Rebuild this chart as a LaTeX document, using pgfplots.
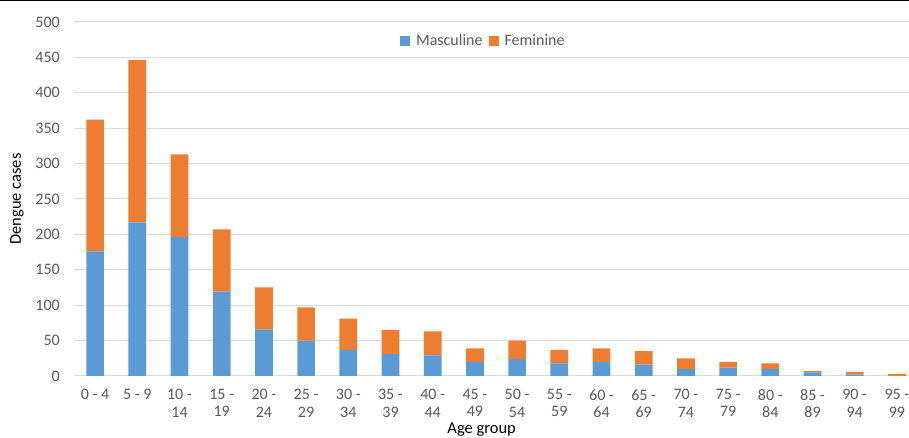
\documentclass[border=0pt]{standalone}
\usepackage{fontspec}
\setmainfont{Carlito}
\usepackage{pgfplots}
\pgfplotsset{compat=1.18}
\definecolor{mblue}{HTML}{5B9BD5}
\definecolor{forange}{HTML}{ED7D31}
\definecolor{tgray}{HTML}{595959}
\definecolor{ggray}{HTML}{D9D9D9}
\begin{document}
\begin{tikzpicture}
\useasboundingbox (0,0) rectangle (909pt,438pt);
\begin{axis}[
  at={(74pt,62pt)}, anchor=south west,
  scale only axis, width=844pt, height=354pt,
  ybar stacked, bar width=17.7pt,
  xmin=-0.5, xmax=19.5, ymin=0, ymax=500,
  enlargelimits=false,
  xtick=data,
  xticklabels={{0 - 4},{5 - 9},{10 -\\14},{15 -\\19},{20 -\\24},{25 -\\29},{30 -\\34},{35 -\\39},{40 -\\44},{45 -\\49},{50 -\\54},{55 -\\59},{60 -\\64},{65 -\\69},{70 -\\74},{75 -\\79},{80 -\\84},{85 -\\89},{90 -\\94},{95 -\\99}},
  ytick={0,50,...,500},
  /pgf/number format/assume math mode=true,
  axis line style={draw=none},
  major tick length=0pt,
  ymajorgrids, grid style={ggray, line width=1pt},
  xticklabel style={font=\fontsize{16}{17.5}\selectfont, text=tgray, align=center, anchor=north, inner sep=0pt, yshift=-13pt},
  yticklabel style={font=\fontsize{16}{18}\selectfont, text=tgray, anchor=east, inner sep=0pt, xshift=-14pt},
  xlabel={Age group}, ylabel={Dengue cases},
  xlabel style={font=\fontsize{16.5}{18}\selectfont, at={(axis description cs:0.483,0)}, anchor=center, yshift=-54pt},
  ylabel style={font=\fontsize{16.5}{18}\selectfont, at={(axis description cs:0,0.5)}, anchor=center, yshift=57pt},
  legend columns=2,
  legend style={at={(axis description cs:0.485,0.946)}, anchor=center, draw=none, fill=none,
    font=\fontsize{16}{18}\selectfont, text=tgray,
    /tikz/every even column/.append style={column sep=4pt}},
]
\addplot[fill=mblue, draw=none, legend image code/.code={\fill[mblue] (0pt,-5pt) rectangle (10pt,5pt); \path (14pt,0pt);}] coordinates {
(0,176) (1,217) (2,196) (3,119) (4,66) (5,50) (6,37) (7,31) (8,29) (9,20)
(10,24) (11,18) (12,20) (13,16) (14,10) (15,12) (16,10) (17,5) (18,2) (19,0)};
\addplot[fill=forange, draw=none, legend image code/.code={\fill[forange] (0pt,-5pt) rectangle (10pt,5pt); \path (14pt,0pt);}] coordinates {
(0,186) (1,229) (2,117) (3,88) (4,59) (5,47) (6,44) (7,34) (8,34) (9,19)
(10,26) (11,19) (12,19) (13,19) (14,15) (15,8) (16,8) (17,2) (18,4) (19,3)};
\legend{Masculine,Feminine}
\end{axis}
\draw[black, line width=1.5pt] (0,438pt) -- (909pt,438pt);
\end{tikzpicture}
\end{document}
